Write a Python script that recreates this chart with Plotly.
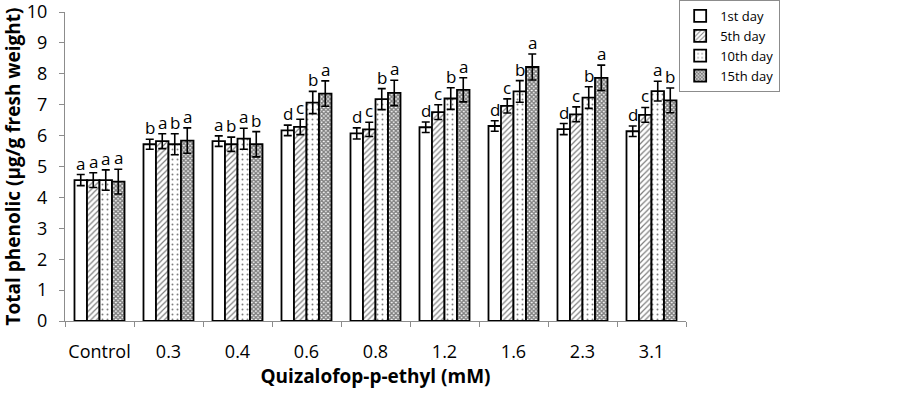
import plotly.graph_objects as go

categories = ["Control", "0.3", "0.4", "0.6", "0.8", "1.2", "1.6", "2.3", "3.1"]
series_names = ["1st day", "5th day", "10th day", "15th day"]

day1 = [4.56, 5.72, 5.82, 6.17, 6.07, 6.27, 6.31, 6.21, 6.14]
day5 = [4.56, 5.82, 5.72, 6.28, 6.20, 6.76, 6.96, 6.69, 6.67]
day10 = [4.56, 5.72, 5.90, 7.07, 7.18, 7.20, 7.43, 7.23, 7.44]
day15 = [4.51, 5.84, 5.72, 7.36, 7.38, 7.48, 8.22, 7.87, 7.14]

err1 = [0.18, 0.16, 0.17, 0.17, 0.18, 0.17, 0.17, 0.18, 0.17]
err5 = [0.24, 0.24, 0.23, 0.25, 0.23, 0.24, 0.23, 0.24, 0.24]
err10 = [0.33, 0.34, 0.34, 0.36, 0.34, 0.35, 0.35, 0.35, 0.32]
err15 = [0.40, 0.41, 0.41, 0.41, 0.41, 0.39, 0.42, 0.41, 0.40]

letters1 = ["a", "b", "a", "d", "d", "d", "d", "d", "d"]
letters5 = ["a", "a", "b", "c", "c", "c", "c", "c", "c"]
letters10 = ["a", "b", "a", "b", "b", "b", "b", "b", "a"]
letters15 = ["a", "a", "b", "a", "a", "a", "a", "a", "b"]

values = [day1, day5, day10, day15]
errors = [err1, err5, err10, err15]
letters = [letters1, letters5, letters10, letters15]

patterns = [
    dict(shape=""),
    dict(shape="/", size=4, solidity=0.3, fgcolor="black", bgcolor="white"),
    dict(shape=".", size=5, solidity=0.12, fgcolor="black", bgcolor="white"),
    dict(shape="x", size=3, solidity=0.7, fgcolor="black", bgcolor="white"),
]

FONT = "Open Sans"
fig = go.Figure()
for name, v, e, p in zip(series_names, values, errors, patterns):
    fig.add_trace(go.Bar(
        x=categories, y=v, name=name,
        marker=dict(color="white", line=dict(color="black", width=1.8), pattern=p),
        error_y=dict(type="data", array=e, visible=True, color="black",
                     thickness=1.6, width=4),
    ))

W, H = 902, 394
L, R, T, B = 65, 216, 12, 73
bargap = 0.275
n = len(series_names)
bar_w_units = (1 - bargap) / n

annotations = []
for i in range(n):
    off_units = -(1 - bargap) / 2 + bar_w_units * (i + 0.5)
    for j in range(len(categories)):
        annotations.append(dict(
            x=j + off_units, y=values[i][j] + errors[i][j], xref="x", yref="y",
            text=letters[i][j], showarrow=False, yanchor="bottom",
            yshift=-2,
            font=dict(family=FONT, size=17, color="black"),
        ))

fig.update_layout(
    width=W, height=H,
    margin=dict(l=L, r=R, t=T, b=B, autoexpand=False),
    paper_bgcolor="white", plot_bgcolor="white",
    barmode="group", bargap=bargap, bargroupgap=0,
    font=dict(family=FONT, color="black"),
    annotations=annotations,
    showlegend=True,
    hovermode=False,
    legend=dict(
        x=0.989, y=1.039, xanchor="left", yanchor="top",
        bordercolor="#8c8c8c", borderwidth=1, bgcolor="white",
        font=dict(family=FONT, size=13, color="black"),
        tracegroupgap=0, itemwidth=30,
    ),
    xaxis=dict(
        type="category", automargin=False, tickangle=0,
        showline=True, linecolor="#8c8c8c", linewidth=1,
        ticks="outside", tickson="boundaries", ticklen=5, tickcolor="#8c8c8c",
        ticklabelstandoff=14,
        tickfont=dict(family=FONT, size=18, color="black"),
        title=dict(text="Quizalofop-p-ethyl (mM)", standoff=1,
                   font=dict(family=FONT, size=19, color="black", weight="bold")),
        showgrid=False,
    ),
    yaxis=dict(
        range=[0, 10], dtick=1, automargin=False, ticklabeloverflow="allow",
        showline=True, linecolor="#8c8c8c", linewidth=1,
        ticks="outside", ticklen=5, tickcolor="#8c8c8c",
        ticklabelstandoff=8,
        tickfont=dict(family=FONT, size=18, color="black"),
        title=dict(text="Total phenolic (µg/g fresh weight)", standoff=6,
                   font=dict(family=FONT, size=19, color="black", weight="bold")),
        showgrid=False, zeroline=False,
    ),
)

# remove the default page margin so the figure sits at the window's top-left corner
fig.write_html("out.html", config={"displayModeBar": False},
               post_script="document.body.style.margin='0';")
